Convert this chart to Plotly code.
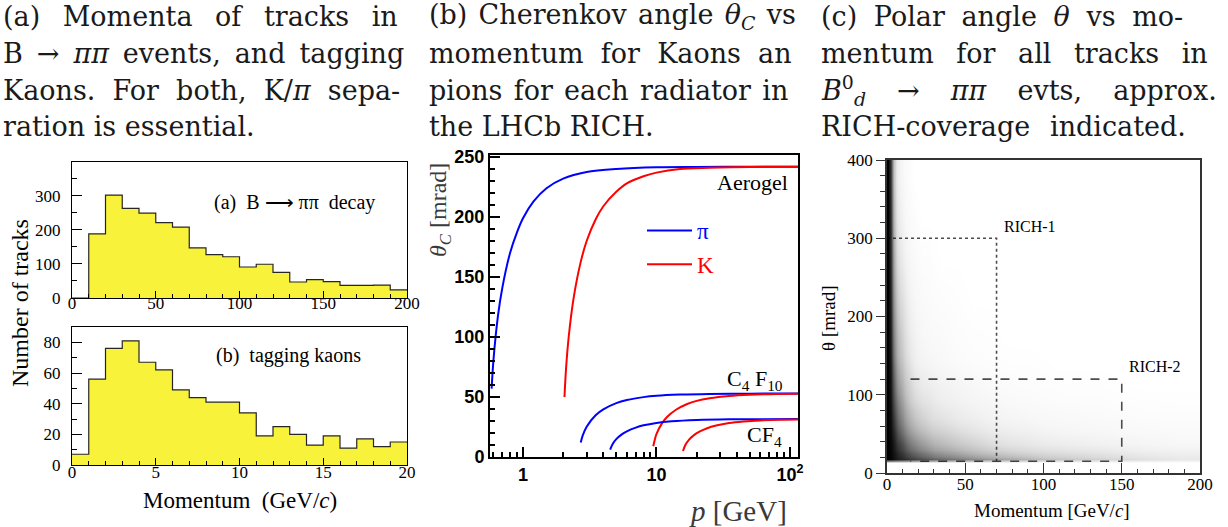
import plotly.graph_objects as go
import numpy as np

W, H = 1228, 527

# ---------------- (a) momentum histograms ----------------
track_p_edges = list(range(0, 201, 10))
track_counts = [0, 188, 302, 263, 249, 221, 208, 147, 127, 121, 91, 99, 75, 47, 54, 48, 37, 37, 38, 24]
kaon_p_edges = list(range(0, 21))
kaon_counts = [7, 56, 76, 81, 67, 62, 49, 44, 41, 41, 34, 19, 25, 20, 13, 19, 11, 17, 12, 15]

# ---------------- (b) Cherenkov angle curves ----------------
aero_pi_p = [0.582, 0.6, 0.65, 0.7, 0.8, 0.9, 1.0, 1.2, 1.5, 2, 3, 5, 10, 20, 50, 115]
aero_pi_theta = [57, 80, 118, 141, 170, 187, 199, 213, 224, 232, 237.5, 240, 241.5, 241.8, 242, 242]
aero_k_p = [2.046, 2.1, 2.2, 2.4, 2.7, 3, 3.5, 4, 5, 6, 8, 10, 15, 25, 50, 115]
aero_k_theta = [50, 73, 100, 133, 162, 180, 198, 209, 221, 228, 234, 237, 240, 241, 241.8, 242]
c4f10_pi_p = [2.708, 2.8, 3, 3.5, 4, 5, 6, 8, 10, 15, 25, 50, 115]
c4f10_pi_theta = [12, 17.8, 25.2, 34.8, 39.7, 44.9, 47.5, 49.9, 51, 52, 52.6, 52.8, 52.9]
c4f10_k_p = [9.465, 10, 11, 12, 14, 17, 20, 25, 35, 50, 80, 115]
c4f10_k_theta = [9, 19.1, 28, 33.3, 39.4, 44.2, 46.8, 49, 50.9, 51.9, 52.5, 52.7]
cf4_pi_p = [4.5, 4.7, 5, 5.5, 6, 7, 8, 10, 13, 20, 35, 60, 115]
cf4_pi_theta = [6.2, 10.9, 14.9, 18.9, 21.4, 24.5, 26.4, 28.4, 29.7, 30.8, 31.4, 31.5, 31.6]
cf4_k_p = [15.81, 16.5, 17.5, 19, 21, 24, 28, 35, 45, 60, 85, 115]
cf4_k_theta = [5, 10.2, 14.3, 18, 21.1, 24, 26.2, 28.3, 29.6, 30.5, 31.1, 31.3]

# ---------------- (c) polar angle vs momentum track density ----------------
scat_p_edges = [0, 1.5, 3, 5, 7, 10, 13, 16, 20, 25, 30, 40, 50, 60, 70, 85, 100, 125, 150, 175, 200]
scat_theta_edges = [0, 12, 15, 20, 30, 45, 60, 80, 100, 125, 150, 200, 250, 300, 350, 400]
density_by_p = [
    [0, 0, 1.0, 1.0, 1.0, 1.0, 1.0, 1.0, 1.0, 1.0, 1.0, 1.0, 1.0, 1.0, 1.0],
    [0, 0, 0.98, 0.98, 0.97, 0.96, 0.95, 0.94, 0.93, 0.92, 0.9, 0.88, 0.86, 0.84, 0.82],
    [0, 0, 0.94, 0.93, 0.9, 0.85, 0.78, 0.71, 0.65, 0.58, 0.5, 0.42, 0.36, 0.3, 0.26],
    [0, 0, 0.9, 0.87, 0.8, 0.72, 0.63, 0.55, 0.46, 0.39, 0.32, 0.24, 0.17, 0.12, 0.09],
    [0, 0, 0.86, 0.81, 0.72, 0.6, 0.5, 0.42, 0.34, 0.27, 0.21, 0.14, 0.09, 0.06, 0.04],
    [0, 0, 0.82, 0.74, 0.62, 0.49, 0.38, 0.3, 0.23, 0.18, 0.13, 0.09, 0.05, 0.03, 0.02],
    [0, 0, 0.78, 0.67, 0.53, 0.4, 0.3, 0.22, 0.17, 0.12, 0.08, 0.05, 0.03, 0.02, 0.01],
    [0, 0, 0.74, 0.61, 0.46, 0.33, 0.23, 0.16, 0.11, 0.07, 0.05, 0.03, 0.02, 0.01, 0],
    [0, 0, 0.69, 0.55, 0.39, 0.27, 0.18, 0.12, 0.08, 0.05, 0.03, 0.02, 0.01, 0, 0],
    [0, 0, 0.64, 0.49, 0.33, 0.22, 0.14, 0.1, 0.07, 0.04, 0.025, 0.015, 0.01, 0, 0],
    [0, 0, 0.58, 0.42, 0.27, 0.18, 0.11, 0.07, 0.05, 0.03, 0.02, 0.01, 0, 0, 0],
    [0, 0, 0.52, 0.36, 0.22, 0.14, 0.08, 0.055, 0.04, 0.02, 0.012, 0.006, 0, 0, 0],
    [0, 0, 0.46, 0.3, 0.18, 0.11, 0.065, 0.04, 0.03, 0.015, 0.008, 0, 0, 0, 0],
    [0, 0, 0.4, 0.25, 0.14, 0.085, 0.05, 0.035, 0.02, 0.012, 0.006, 0, 0, 0, 0],
    [0, 0, 0.34, 0.21, 0.11, 0.07, 0.04, 0.025, 0.014, 0.007, 0, 0, 0, 0, 0],
    [0, 0, 0.28, 0.17, 0.09, 0.055, 0.032, 0.02, 0.012, 0.006, 0, 0, 0, 0, 0],
    [0, 0, 0.22, 0.14, 0.07, 0.04, 0.025, 0.014, 0.007, 0, 0, 0, 0, 0, 0],
    [0, 0, 0.17, 0.11, 0.055, 0.032, 0.02, 0.012, 0.006, 0, 0, 0, 0, 0, 0],
    [0, 0, 0.12, 0.08, 0.04, 0.025, 0.014, 0.007, 0, 0, 0, 0, 0, 0, 0],
    [0, 0, 0.09, 0.065, 0.032, 0.02, 0.012, 0.006, 0, 0, 0, 0, 0, 0, 0],
]
rich1_p = [0, 70]
rich1_theta = [15, 300]
rich2_p = [15, 150]
rich2_theta = [15, 120]

# ---------------- helpers ----------------
def fx(x):
    return x / W

def fy(y):
    return 1 - y / H

SERIF = "Liberation Serif"
CAPFONT = "DejaVu Serif"
SANS = "Liberation Sans"
YELLOW = "#f8f23a"

fig = go.Figure()

# (a) histograms as filled step outlines
fig.add_trace(go.Scatter(
    x=track_p_edges, y=track_counts + [track_counts[-1]], mode="lines", line_shape="hv",
    fill="tozeroy", fillcolor=YELLOW, line=dict(color="#262626", width=1.2),
    xaxis="x", yaxis="y", showlegend=False, hoverinfo="skip"))
fig.add_trace(go.Scatter(
    x=kaon_p_edges, y=kaon_counts + [kaon_counts[-1]], mode="lines", line_shape="hv",
    fill="tozeroy", fillcolor=YELLOW, line=dict(color="#262626", width=1.2),
    xaxis="x2", yaxis="y2", showlegend=False, hoverinfo="skip"))

# (b) curves
curves = [
    (aero_pi_p, aero_pi_theta, "blue", "<span style='color:blue'>π</span>", True, "pi"),
    (aero_k_p, aero_k_theta, "red", "<span style='color:red'>K</span>", True, "k"),
    (c4f10_pi_p, c4f10_pi_theta, "blue", "", False, "pi"),
    (c4f10_k_p, c4f10_k_theta, "red", "", False, "k"),
    (cf4_pi_p, cf4_pi_theta, "blue", "", False, "pi"),
    (cf4_k_p, cf4_k_theta, "red", "", False, "k"),
]
for px_, th_, col, name, show, grp in curves:
    fig.add_trace(go.Scatter(
        x=px_, y=th_, mode="lines", line=dict(color=col, width=2, shape="spline", smoothing=0.8),
        name=name, showlegend=show, legendgroup=grp, xaxis="x3", yaxis="y3", hoverinfo="skip"))

# (c) density map
z = np.array(density_by_p).T
fig.add_trace(go.Heatmap(
    x=scat_p_edges, y=scat_theta_edges, z=z, zmin=0, zmax=1, zsmooth="best",
    colorscale=[[0, "rgba(0,0,0,0)"], [1, "rgba(0,0,0,1)"]], showscale=False,
    xaxis="x4", yaxis="y4", hoverinfo="skip"))

shapes = [
    dict(type="path", xref="x4", yref="y4", layer="below",
         path=f"M {rich1_p[0]},{rich1_theta[1]} L {rich1_p[1]},{rich1_theta[1]} L {rich1_p[1]},{rich1_theta[0]}",
         line=dict(color="#4d4d4d", width=1.6, dash="dot")),
    dict(type="path", xref="x4", yref="y4", layer="below",
         path=(f"M {rich2_p[0]},{rich2_theta[1]} L {rich2_p[1]},{rich2_theta[1]} "
               f"L {rich2_p[1]},{rich2_theta[0]} L {rich2_p[0]},{rich2_theta[0]}"),
         line=dict(color="#4d4d4d", width=1.6, dash="dash")),
]

tick_serif = dict(family=SERIF, size=17, color="black")
common = dict(showgrid=False, zeroline=False, showline=True, linecolor="black", mirror=True,
              automargin=False)

log_minor = [0.6, 0.7, 0.8, 0.9] + [k for k in range(2, 10)] + [10 * k for k in range(2, 10)]

fig.update_layout(
    width=W, height=H, margin=dict(l=0, r=0, t=0, b=0, pad=0, autoexpand=False),
    paper_bgcolor="white", plot_bgcolor="white",
    showlegend=True,
    legend=dict(x=fx(642), y=fy(209), xanchor="left", yanchor="top",
                font=dict(family=SERIF, size=23), bgcolor="rgba(0,0,0,0)",
                traceorder="grouped", tracegroupgap=1, itemwidth=45),
    xaxis=dict(domain=[fx(72), fx(407)], range=[0, 200], anchor="y",
               tickvals=[0, 50, 100, 150, 200], ticks="inside", ticklen=7, tickcolor="black",
               minor=dict(tickvals=list(range(0, 201, 10)), ticks="inside", ticklen=4, tickcolor="black"),
               tickfont=tick_serif, linewidth=1, ticklabelstandoff=-10, **common),
    yaxis=dict(domain=[fy(298), fy(162)], range=[0, 399], anchor="x",
               tickvals=[0, 100, 200, 300], ticks="inside", ticklen=10, tickcolor="black",
               minor=dict(tickvals=list(range(0, 400, 50)), ticks="inside", ticklen=5, tickcolor="black"),
               tickfont=tick_serif, linewidth=1, ticklabelstandoff=7, **common),
    xaxis2=dict(domain=[fx(72), fx(407)], range=[0, 20], anchor="y2",
                tickvals=[0, 5, 10, 15, 20], ticks="inside", ticklen=7, tickcolor="black",
                minor=dict(tickvals=list(range(0, 21)), ticks="inside", ticklen=4, tickcolor="black"),
                tickfont=tick_serif, linewidth=1, ticklabelstandoff=-8, **common),
    yaxis2=dict(domain=[fy(465), fy(327)], range=[0, 90], anchor="x2",
                tickvals=[0, 20, 40, 60, 80], ticks="inside", ticklen=10, tickcolor="black",
                minor=dict(tickvals=list(range(0, 91, 10)), ticks="inside", ticklen=5, tickcolor="black"),
                tickfont=tick_serif, linewidth=1, ticklabelstandoff=7, **common),
    xaxis3=dict(domain=[fx(490), fx(798)], type="log", range=[np.log10(0.566), np.log10(115)],
                anchor="y3", tickvals=[1, 10, 100], ticktext=["1", "10", "10<sup>2</sup>"],
                ticks="inside", ticklen=10, tickwidth=2, tickcolor="black",
                minor=dict(tickvals=log_minor, ticks="inside", ticklen=5, tickwidth=1.5, tickcolor="black"),
                tickfont=dict(family=SANS, size=18, color="black", weight="bold"),
                ticklabelstandoff=0, linewidth=2, **common),
    yaxis3=dict(domain=[fy(457), fy(155)], range=[0, 251.7], anchor="x3",
                tickvals=[0, 50, 100, 150, 200, 250], ticks="inside", ticklen=10, tickwidth=2, tickcolor="black",
                minor=dict(tickvals=list(range(0, 251, 10)), ticks="inside", ticklen=5, tickwidth=1.5, tickcolor="black"),
                tickfont=dict(family=SANS, size=18, color="black", weight="bold"),
                ticklabelstandoff=0, linewidth=2, **common),
    xaxis4=dict(domain=[fx(887), fx(1200)], range=[0, 200], anchor="y4",
                tickvals=[0, 50, 100, 150, 200], ticks="inside", ticklen=10, tickcolor="#333",
                minor=dict(tickvals=list(range(0, 201, 10)), ticks="inside", ticklen=4, tickcolor="#333"),
                tickfont=tick_serif, linewidth=1.5, ticklabelstandoff=-5, **{**common, "linecolor": "#333"}),
    yaxis4=dict(domain=[fy(473), fy(160)], range=[0, 400], anchor="x4",
                tickvals=[0, 100, 200, 300, 400], ticks="outside", ticklen=9, tickcolor="#333",
                minor=dict(tickvals=list(range(0, 401, 20)), ticks="outside", ticklen=5, tickcolor="#333"),
                tickfont=tick_serif, linewidth=1.5, **{**common, "linecolor": "#333"}),
    shapes=shapes,
)

ann = []
def add_text(x, y, text, size, family=SERIF, xanchor="left", yanchor="middle", color="black", angle=0):
    ann.append(dict(x=fx(x), y=fy(y), xref="paper", yref="paper", text=text, showarrow=False,
                    xanchor=xanchor, yanchor=yanchor, textangle=angle, borderpad=0,
                    font=dict(family=family, size=size, color=color)))

NBSP, THIN, HAIR = "\u00a0", "\u2009", "\u200a"

def justify(text, extra_px):
    """Widen inter-word gaps (approximate justification) by extra_px in total."""
    words = text.split(" ")
    gaps = len(words) - 1
    if gaps <= 0 or extra_px <= 0:
        return text
    per = extra_px / gaps
    n_nb = int(per // 8.6)
    rem = per - n_nb * 8.6
    n_th = int(rem // 5.4)
    rem -= n_th * 5.4
    n_ha = int(round(rem / 2.7))
    pad = NBSP * n_nb + THIN * n_th + HAIR * n_ha
    return (" " + pad).join(words)

# captions: (left x, [(line text, extra px for justification)])
cap_color = "#1a1a1a"
caps = [
    (2, [("(a) Momenta of tracks in", 58), ("B → <i>ππ</i> events, and tagging", 23),
         ("Kaons. For both, K/<i>π</i> sepa-", 36), ("ration is essential.", 0)]),
    (428, [("(b) Cherenkov angle <i>θ<sub>C</sub></i> vs", 8), ("momentum for Kaons an", 27),
           ("pions for each radiator in", 14), ("the LHCb RICH.", 0)]),
    (820, [("(c) Polar angle <i>θ</i> vs mo-", 40), ("mentum for all tracks in", 53),
           ("<i>B</i><sup>0</sup><sub><i>d</i></sub> → <i>ππ</i> evts, approx.", 90),
           ("RICH-coverage indicated.", 10)]),
]
line_y = [17, 54, 90, 127]
for x0, lines in caps:
    for ly, (t, ex) in zip(line_y, lines):
        add_text(x0, ly, justify(t, ex), 27, family=CAPFONT, color=cap_color)

# (a) labels
add_text(213, 202, "(a)" + NBSP * 2 + "B ⟶" + NBSP + "ππ" + NBSP * 2 + "decay", 20)
add_text(215, 355, "(b)" + NBSP * 2 + "tagging kaons", 20)
add_text(20, 303, "Number of tracks", 24, xanchor="center", angle=-90)
add_text(240, 500, "Momentum" + NBSP * 2 + "(GeV/<i>c</i>)", 23, xanchor="center")

# (b) labels
add_text(440, 210, "<i>θ<sub>C</sub></i> [mrad]", 24, xanchor="center", angle=-90, color="#3a3a3a")
add_text(788, 511, "<i>p</i> [GeV]", 29, xanchor="right", color="#3a3a3a")
add_text(789, 183, "Aerogel", 22, xanchor="right")
add_text(784, 380, "C<sub>4</sub> F<sub>10</sub>", 22, xanchor="right")
add_text(783, 436, "CF<sub>4</sub>", 22, xanchor="right")

# (c) labels
add_text(1003, 227, "RICH-1", 16)
add_text(1128, 366, "RICH-2", 16)
add_text(1052, 510, "Momentum [GeV/<i>c</i>]", 19, xanchor="center")
add_text(828, 318, "θ [mrad]", 19, xanchor="center", angle=-90)

fig.update_layout(annotations=ann)
fig.write_html("out.html", config={"displayModeBar": False},
               post_script="document.body.style.margin='0px';")
